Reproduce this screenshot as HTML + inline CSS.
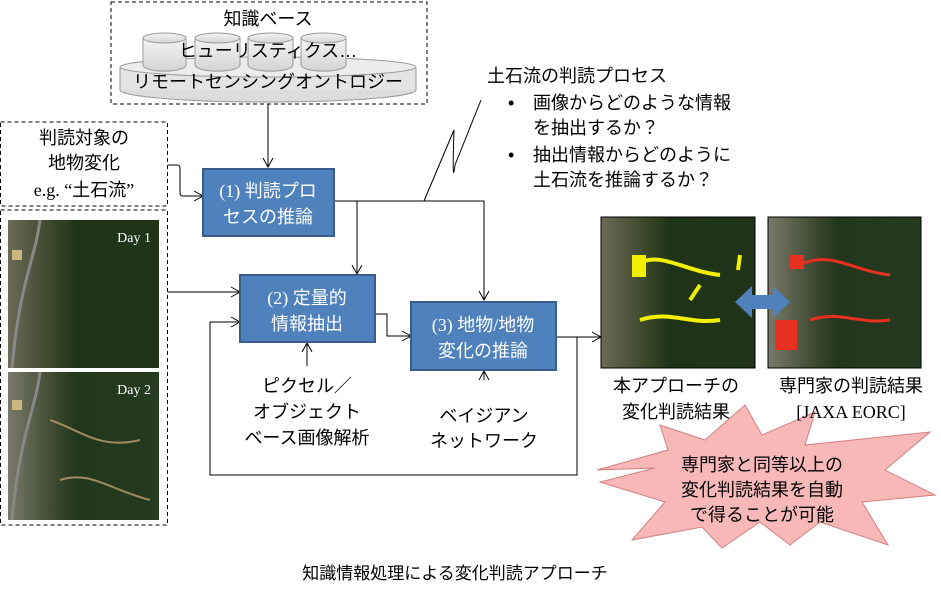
<!DOCTYPE html>
<html><head><meta charset="utf-8"><style>
body{margin:0;background:#fff}
svg{display:block;font-family:"Liberation Serif","Noto Sans CJK JP",sans-serif}
.j{font-family:"Liberation Sans","Noto Sans CJK JP",sans-serif}
</style></head><body>
<svg width="941" height="593" viewBox="0 0 941 593" xmlns="http://www.w3.org/2000/svg">
<defs>
<marker id="a" markerWidth="12" markerHeight="12" refX="10" refY="6" orient="auto" markerUnits="userSpaceOnUse"><path d="M1,1 L10,6 L1,11" fill="none" stroke="#000" stroke-width="1"/></marker>
<linearGradient id="cy" x1="0" x2="0" y1="0" y2="1"><stop offset="0" stop-color="#f4f4f4"/><stop offset="1" stop-color="#d4d4d4"/></linearGradient>
<linearGradient id="sat" x1="0" x2="1"><stop offset="0" stop-color="#6b6a58"/><stop offset="0.3" stop-color="#3a4628"/><stop offset="0.45" stop-color="#1f3318"/><stop offset="1" stop-color="#213419"/></linearGradient>
<linearGradient id="sat2" x1="0" x2="1"><stop offset="0" stop-color="#7a7a6c"/><stop offset="0.3" stop-color="#3f4a30"/><stop offset="0.45" stop-color="#22371c"/><stop offset="1" stop-color="#253a1e"/></linearGradient>
</defs>

<rect x="111" y="2" width="316" height="102" fill="none" stroke="#000" stroke-dasharray="4,3"/>
<text x="268" y="25" font-size="18" text-anchor="middle" class="j">知識ベース</text>
<ellipse cx="268" cy="90" rx="148" ry="12" fill="#dcdcdc" stroke="#999"/>
<rect x="120" y="67" width="296" height="23" fill="#e4e4e4"/>
<line x1="120" y1="67" x2="120" y2="90" stroke="#999"/><line x1="416" y1="67" x2="416" y2="90" stroke="#999"/>
<ellipse cx="268" cy="67" rx="148" ry="10" fill="#ececec" stroke="#999"/>
<g fill="url(#cy)" stroke="#999">
<path d="M143,38 v27 a21,6 0 0 0 43,0 v-27"/><ellipse cx="164.5" cy="38" rx="21.5" ry="5"/>
<path d="M195,38 v27 a22,6 0 0 0 45,0 v-27"/><ellipse cx="217.5" cy="38" rx="22.5" ry="5"/>
<path d="M248,38 v27 a22,6 0 0 0 45,0 v-27"/><ellipse cx="270.5" cy="38" rx="22.5" ry="5"/>
<path d="M301,38 v27 a22,6 0 0 0 45,0 v-27"/><ellipse cx="323.5" cy="38" rx="22.5" ry="5"/>
</g>
<text x="268" y="57" font-size="18" text-anchor="middle" class="j">ヒューリスティクス…</text>
<text x="268" y="88" font-size="18" text-anchor="middle" class="j">リモートセンシングオントロジー</text>
<line x1="268" y1="104" x2="268" y2="167" stroke="#000" marker-end="url(#a)"/>

<rect x="0.5" y="122" width="167" height="84" fill="none" stroke="#000" stroke-dasharray="4,3"/>
<text x="84" y="144" font-size="18" text-anchor="middle" class="j">判読対象の</text>
<text x="84" y="169" font-size="18" text-anchor="middle" class="j">地物変化</text>
<text x="84" y="196" font-size="18" text-anchor="middle">e.g. “<tspan class="j">土石流</tspan>”</text>
<rect x="0.5" y="210" width="167" height="315" fill="none" stroke="#000" stroke-dasharray="4,3"/>
<rect x="8" y="220" width="151" height="148" fill="url(#sat)"/>
<rect x="8" y="372" width="151" height="148" fill="url(#sat2)"/>
<path d="M40,220 C35,260 20,280 12,368" stroke="#888" stroke-width="3" fill="none"/>
<path d="M40,372 C35,412 20,432 12,520" stroke="#888" stroke-width="3" fill="none"/>
<path d="M50,420 C80,430 100,450 140,440 M60,480 C90,470 110,490 150,500" stroke="#a08a60" stroke-width="2" fill="none"/>
<rect x="12" y="250" width="10" height="10" fill="#c8b880"/><rect x="12" y="400" width="10" height="10" fill="#c8b880"/>
<text x="151" y="242" font-size="14" fill="#fff" text-anchor="end">Day 1</text>
<text x="151" y="394" font-size="14" fill="#fff" text-anchor="end">Day 2</text>

<g stroke="#000" fill="none">
<path d="M168,165 H177 Q180,165 180,168 V193 Q180,196 183,196 H203" marker-end="url(#a)"/>
<line x1="168" y1="292" x2="240" y2="292" marker-end="url(#a)"/>
<path d="M334,201 H484 V300" marker-end="url(#a)"/>
<line x1="357" y1="201" x2="357" y2="274" marker-end="url(#a)"/>
<path d="M375,314 H387 V336 H411" marker-end="url(#a)"/>
<line x1="556" y1="337" x2="601" y2="337" marker-end="url(#a)"/>
<path d="M577,337 V475 H210 V322 H240" marker-end="url(#a)"/>
<line x1="307" y1="366" x2="307" y2="343" marker-end="url(#a)"/>
<line x1="484" y1="380" x2="484" y2="371" marker-end="url(#a)"/>
<path d="M424,201 L454,130 Q452,190 455,165 L481,100"/>
</g>

<g fill="#4f81bd" stroke="#385d8a" stroke-width="2">
<rect x="203" y="169" width="131" height="67"/>
<rect x="240" y="275" width="135" height="67"/>
<rect x="411" y="302" width="145" height="68"/>
</g>
<g fill="#fff" font-size="18" text-anchor="middle">
<text x="268" y="197">(1) <tspan class="j">判読プロ</tspan></text>
<text x="268" y="223" class="j">セスの推論</text>
<text x="307" y="304">(2) <tspan class="j">定量的</tspan></text>
<text x="307" y="330" class="j">情報抽出</text>
<text x="483" y="331">(3) <tspan class="j">地物</tspan>/<tspan class="j">地物</tspan></text>
<text x="483" y="357" class="j">変化の推論</text>
</g>
<g font-size="18" text-anchor="middle" class="j">
<text x="307" y="392">ピクセル／</text>
<text x="307" y="418">オブジェクト</text>
<text x="307" y="444">ベース画像解析</text>
<text x="484" y="422">ベイジアン</text>
<text x="484" y="447">ネットワーク</text>
</g>

<g font-size="18" class="j">
<text x="487" y="82">土石流の判読プロセス</text>
<text x="508" y="109">•</text><text x="533" y="109">画像からどのような情報</text>
<text x="533" y="134">を抽出するか？</text>
<text x="508" y="161">•</text><text x="533" y="161">抽出情報からどのように</text>
<text x="533" y="186">土石流を推論するか？</text>
</g>

<rect x="601" y="217" width="154" height="151" fill="url(#sat)" stroke="#000"/>
<rect x="768" y="217" width="153" height="151" fill="url(#sat2)" stroke="#000"/>
<g stroke="#f0f000" stroke-width="4" fill="none">
<path d="M635,265 C660,250 680,270 720,275 M640,320 C670,310 690,325 720,320 M690,300 L700,285 M740,255 L738,270"/>
</g>
<rect x="632" y="255" width="14" height="22" fill="#f0f000"/>
<g stroke="#e83020" stroke-width="3" fill="none">
<path d="M800,265 C830,250 850,270 890,275 M810,320 C840,310 860,325 890,320"/>
</g>
<rect x="775" y="320" width="22" height="30" fill="#e83020"/><rect x="790" y="255" width="14" height="14" fill="#e83020"/>
<path d="M735,302 L752,286 V295 H773 V286 L790,302 L773,318 V309 H752 V318 Z" fill="#4f81bd"/>

<path d="M597,470 L668,450 L660,425 L705,440 L745,405 L762,435 L815,412 L805,445 L930,432 L885,470 L935,495 L862,502 L888,545 L820,522 L790,545 L760,522 L722,548 L702,527 L632,540 L665,502 L600,482 L655,468 Z" fill="#f8b8b8" stroke="#d08080"/>
<g font-size="18" text-anchor="middle">
<text x="676" y="392" class="j">本アプローチの</text>
<text x="676" y="418" class="j">変化判読結果</text>
<text x="851" y="392" class="j">専門家の判読結果</text>
<text x="851" y="418">[JAXA EORC]</text>
</g>
<g font-size="18" text-anchor="middle" class="j">
<text x="762" y="471">専門家と同等以上の</text>
<text x="762" y="496">変化判読結果を自動</text>
<text x="762" y="521">で得ることが可能</text>
</g>
<text x="455" y="579" font-size="17" text-anchor="middle" class="j">知識情報処理による変化判読アプローチ</text>
</svg>
</body></html>
